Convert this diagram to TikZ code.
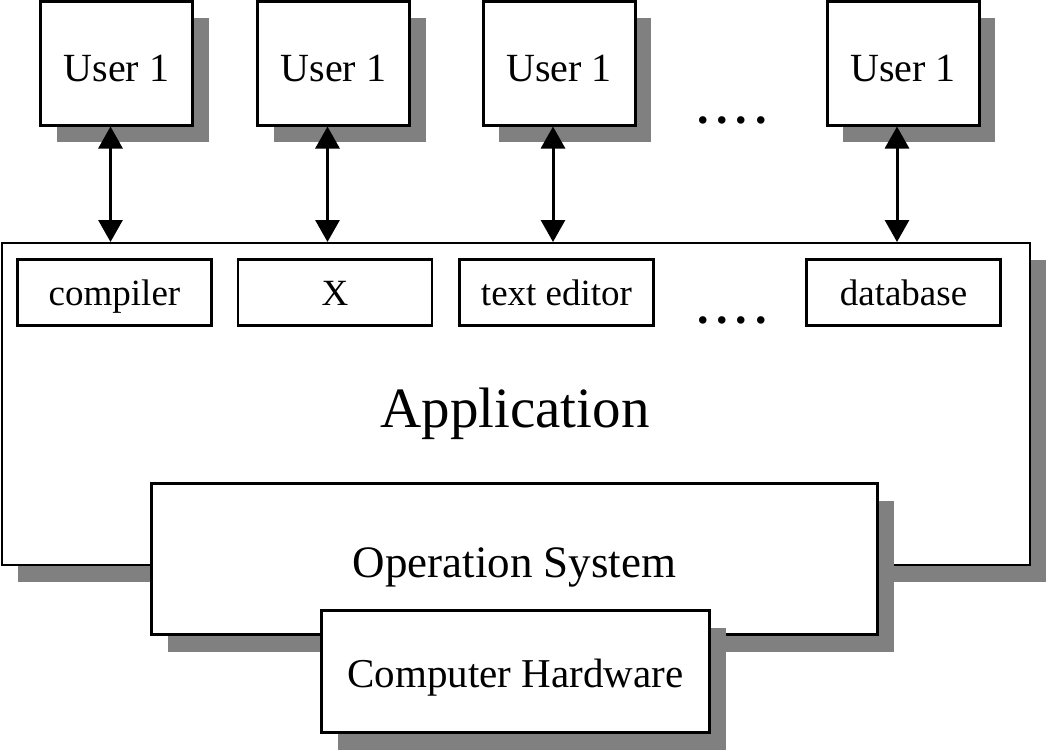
\documentclass[tikz,border=0pt]{standalone}
\usepackage{fontspec}
\setmainfont{Liberation Serif}
\usetikzlibrary{arrows.meta,shadows}

\tikzset{
	shade/.style={drop shadow={shadow xshift=16pt,shadow yshift=-17pt,fill=black!50,opacity=1}},
	userbox/.style={draw,line width=3pt,fill=white,shade,minimum width=152pt,minimum height=124pt,inner sep=0pt,text height=37pt,text depth=0pt,font=\fontsize{40}{44}\selectfont},
	progbox/.style={draw,line width=2.5pt,fill=white,minimum width=194pt,minimum height=66pt,inner sep=0pt,text height=25pt,text depth=0pt,font=\fontsize{37}{40}\selectfont},
	layer/.style={draw,fill=white,shade,inner sep=0pt,text depth=0pt},
	moredots/.style={anchor=base,font=\fontsize{46}{48}\selectfont\bfseries},
	biarrow/.style={line width=3pt,{Triangle[length=22pt,width=24pt]}-{Triangle[length=22pt,width=24pt]}}
}
\newcommand{\fourdots}{.\kern8pt.\kern8pt.\kern8pt.}

\begin{document}
\begin{tikzpicture}[x=1pt,y=-1pt]
\useasboundingbox (0,0) rectangle (1050,753);
%application layer
\node[layer,line width=2pt,minimum width=1028pt,minimum height=322pt] (app) at (516,404) {};
\node[anchor=base,font=\fontsize{57}{60}\selectfont] (applabel) at (515,427) {Application};
\node[progbox] (comp) at (114.5,292.5) {compiler};
\node[progbox] (xwin) at (335,292.5) {X};
\node[progbox] (edit) at (556.5,292.5) {text editor};
\node[progbox] (dbase) at (903.5,292.5) {database};
\node[moredots] (dotsb) at (732,323) {\fourdots};
%users
\node[userbox] (u1) at (116.5,63) {User 1};
\node[userbox] (u2) at (333.5,63) {User 1};
\node[userbox] (u3) at (559,63) {User 1};
\node[userbox] (u4) at (903,63) {User 1};
\node[moredots] (dotst) at (732,123) {\fourdots};
\foreach \u in {u1,u2,u3,u4} {
	\draw[biarrow] ([xshift=-6pt]\u.south) -- ([xshift=-6pt]\u.south |- app.north); }
%system layers
\node[layer,line width=3pt,minimum width=726pt,minimum height=151pt,text height=36pt,font=\fontsize{45}{48}\selectfont] (os) at (514.5,559) {Operation System};
\node[layer,line width=3pt,minimum width=388pt,minimum height=122pt,text height=31pt,font=\fontsize{41}{44}\selectfont] (hw) at (515.5,671.5) {Computer Hardware};
\end{tikzpicture}
\end{document}
